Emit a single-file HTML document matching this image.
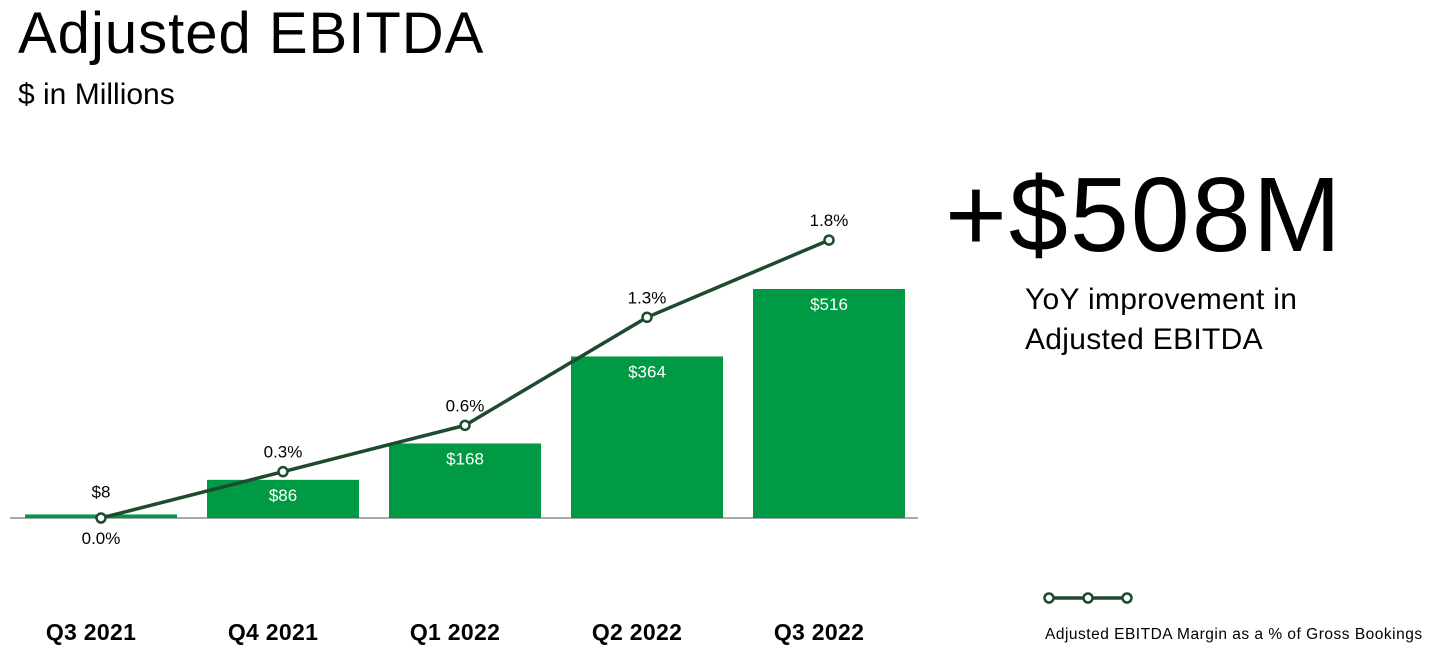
<!DOCTYPE html>
<html><head><meta charset="utf-8">
<style>
body{margin:0;width:1450px;height:668px;background:#fff;font-family:"Liberation Sans",sans-serif;overflow:hidden;position:relative}
.t{position:absolute;white-space:nowrap;color:#000}
</style></head><body>
<div class="t" style="left:18px;top:0px;font-size:58px;letter-spacing:1px">Adjusted EBITDA</div>
<div class="t" style="left:18px;top:78px;font-size:30px">$ in Millions</div>
<div class="t" style="left:945px;top:155px;font-size:106px;letter-spacing:2px">+$508M</div>
<div class="t" style="left:1025px;top:280px;font-size:30px;line-height:40px;letter-spacing:0.3px">YoY improvement in<br>Adjusted EBITDA</div>
<svg id="chart" width="1450" height="668" style="position:absolute;left:0;top:0"></svg>
<script>
const categories=["Q3 2021","Q4 2021","Q1 2022","Q2 2022","Q3 2022"];
const ebitda=[8,86,168,364,516];
const ebitdaLabels=["$8","$86","$168","$364","$516"];
const margin=[0.0,0.3,0.6,1.3,1.8];
const marginLabels=["0.0%","0.3%","0.6%","1.3%","1.8%"];
const svg=document.getElementById('chart');
const NS="http://www.w3.org/2000/svg";
const base=518;
const xC=i=>101+i*182;
const yB=v=>base-v*0.4438;
const yL=v=>base-v*154.4;
function mk(t,a){const e=document.createElementNS(NS,t);for(const k in a)e.setAttribute(k,a[k]);svg.appendChild(e);return e;}
categories.forEach((c,i)=>{
  const y=yB(ebitda[i]);
  const r=mk('rect',{x:xC(i)-76,y:y,width:152,height:base-y,fill:'#009a44'});
  
  
  const inside=(base-y)>30;
  const tl=mk('text',{x:xC(i),y:inside?y+21:y-17,'text-anchor':'middle','font-size':17,fill:inside?'#fff':'#000'});
  tl.textContent=ebitdaLabels[i];
  
  
  const cl=mk('text',{x:xC(i)-10,y:640,'text-anchor':'middle','font-size':23,'font-weight':'bold','letter-spacing':0.3,fill:'#000'});
  cl.textContent=c;
  
  
});
const ax=mk('line',{x1:10,x2:918,y1:base,y2:base,stroke:'#555','stroke-width':1});


const pl=mk('polyline',{points:margin.map((m,i)=>xC(i)+','+yL(m)).join(' '),fill:'none',stroke:'#1e4a2e','stroke-width':3.5});


margin.forEach((m,i)=>{
  const c=mk('circle',{cx:xC(i),cy:yL(m),r:4.5,fill:'#fff',stroke:'#1e4a2e','stroke-width':2.5});
  
  
  const below=i===0;
  const t=mk('text',{x:xC(i),y:below?yL(m)+26:yL(m)-14,'text-anchor':'middle','font-size':17,fill:'#000'});
  t.textContent=marginLabels[i];
  
  
});
const lg=mk('line',{x1:1049,x2:1127,y1:598,y2:598,stroke:'#1e4a2e','stroke-width':3.5});


[1049,1088,1127].forEach(x=>{
  const c=mk('circle',{cx:x,cy:598,r:4.5,fill:'#fff',stroke:'#1e4a2e','stroke-width':2.5});
  
  
});
const lt=mk('text',{x:1045,y:639,'font-size':15.5,'letter-spacing':0.5,fill:'#000'});
lt.textContent="Adjusted EBITDA Margin as a % of Gross Bookings";


</script>
</body></html>
